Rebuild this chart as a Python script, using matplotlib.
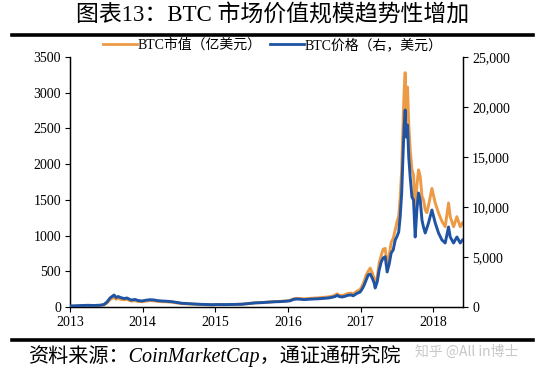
import matplotlib
matplotlib.use("Agg")
import matplotlib.pyplot as plt
from matplotlib.lines import Line2D

# ---- data ----
years = [2013.000, 2013.083, 2013.165, 2013.248, 2013.331, 2013.413, 2013.468, 2013.510,
         2013.551, 2013.579, 2013.606, 2013.634, 2013.661, 2013.702, 2013.744, 2013.785,
         2013.840, 2013.895, 2013.937, 2013.992, 2014.047, 2014.102, 2014.157, 2014.212,
         2014.267, 2014.322, 2014.405, 2014.474, 2014.543, 2014.625, 2014.708, 2014.791,
         2014.873, 2014.956, 2015.039, 2015.121, 2015.204, 2015.287, 2015.369, 2015.452,
         2015.548, 2015.645, 2015.727, 2015.810, 2015.893, 2015.975, 2016.030, 2016.072,
         2016.113, 2016.168, 2016.223, 2016.278, 2016.347, 2016.416, 2016.485, 2016.554,
         2016.609, 2016.650, 2016.678, 2016.705, 2016.747, 2016.788, 2016.829, 2016.871,
         2016.898, 2016.926, 2016.953, 2016.994, 2017.022, 2017.050, 2017.077, 2017.105,
         2017.132, 2017.160, 2017.187, 2017.201, 2017.229, 2017.256, 2017.284, 2017.311,
         2017.339, 2017.366, 2017.394, 2017.421, 2017.449, 2017.477, 2017.504, 2017.525,
         2017.545, 2017.566, 2017.587, 2017.601, 2017.614, 2017.628, 2017.646, 2017.663,
         2017.683, 2017.707, 2017.729, 2017.752, 2017.775, 2017.798, 2017.821, 2017.845,
         2017.866, 2017.890, 2017.913, 2017.935, 2017.982, 2018.028, 2018.073, 2018.120,
         2018.165, 2018.211, 2018.234, 2018.280, 2018.326, 2018.372, 2018.403]

price = [100, 120, 150, 170, 150, 180, 250, 500,
         900, 1050, 1200, 950, 1050, 930, 850, 900,
         700, 750, 650, 600, 680, 730, 700, 630,
         600, 580, 530, 450, 370, 340, 300, 270,
         250, 230, 250, 240, 250, 260, 280, 340,
         410, 440, 480, 520, 540, 580, 620, 750,
         800, 780, 740, 770, 800, 820, 860, 900,
         970, 1050, 1170, 1050, 1000, 1080, 1180, 1200,
         1120, 1250, 1370, 1500, 1800, 2200, 2700, 3200,
         3300, 2900, 2400, 1900, 2500, 3700, 4500, 4900,
         5030, 3500, 4300, 5400, 5700, 6700, 7100, 7500,
         9000, 11400, 15700, 18200, 19700, 17000, 18200, 15000,
         13000, 11000, 10700, 7000, 9700, 11400, 10700, 8700,
         8000, 7400, 7900, 8400, 9700, 8400, 7400, 6700,
         6400, 8000, 7000, 6400, 7000, 6400, 6700]

market_cap = [11, 14, 17, 19, 17, 21, 29, 57,
              103, 121, 138, 109, 121, 107, 101, 107,
              83, 89, 77, 74, 84, 90, 86, 78,
              75, 73, 67, 57, 47, 44, 39, 35,
              33, 31, 34, 33, 35, 36, 39, 48,
              58, 63, 69, 75, 79, 85, 93, 113,
              121, 119, 113, 119, 124, 128, 135, 141,
              152, 166, 185, 166, 160, 173, 190, 194,
              181, 203, 224, 246, 295, 362, 446, 500,
              545, 480, 400, 320, 415, 615, 720, 810,
              820, 590, 720, 900, 960, 1080, 1200, 1270,
              1520, 1920, 2640, 3050, 3280, 2750, 3080, 2560,
              2200, 1920, 1850, 1360, 1700, 1920, 1830, 1550,
              1500, 1360, 1320, 1420, 1660, 1455, 1316, 1200,
              1124, 1456, 1264, 1124, 1264, 1124, 1176]

left_ticks = [0, 500, 1000, 1500, 2000, 2500, 3000, 3500]
right_ticks = [0, 5000, 10000, 15000, 20000, 25000]
right_labels = ["0", "5,000", "10,000", "15,000", "20,000", "25,000"]
year_ticks = [2013, 2014, 2015, 2016, 2017, 2018]
year_labels = ["2013", "2014", "2015", "2016", "2017", "2018"]

title = "图表13：BTC 市场价值规模趋势性增加"
label_cap = "BTC市值（亿美元）"
label_price = "BTC价格（右，美元）"
source = "资料来源：CoinMarketCap，通证通研究院"

ORANGE = "#EC9A45"
BLUE = "#1F53A3"
FAM = ["Liberation Serif", "Noto Sans CJK SC"]

fig = plt.figure(figsize=(5.47, 3.72), dpi=100)
ax = fig.add_axes([70 / 547, 1 - 307 / 372, (463 - 70) / 547, (307 - 57) / 372])
ax2 = ax.twinx()

ax.plot(years, market_cap, color=ORANGE, lw=2.1, zorder=2, solid_joinstyle="round")
ax2.plot(years, price, color=BLUE, lw=2.1, zorder=3, solid_joinstyle="round")

ax.set_xlim(2013, 2018.41)
ax.set_ylim(0, 3500)
ax2.set_ylim(0, 25000)
ax.set_yticks(left_ticks)
ax.set_yticklabels([str(v) for v in left_ticks], family=FAM, fontsize=10)
ax2.set_yticks(right_ticks)
ax2.set_yticklabels(right_labels, family=FAM, fontsize=10)
ax.set_xticks(year_ticks)
ax.set_xticklabels(year_labels, family=FAM, fontsize=10)

for a in (ax, ax2):
    a.spines["top"].set_visible(False)
    for s in ("left", "right", "bottom"):
        a.spines[s].set_color("black")
        a.spines[s].set_linewidth(0.9)
ax.tick_params(axis="both", direction="out", length=3.5, width=0.8, pad=3, colors="black")
ax2.tick_params(axis="y", direction="out", length=3.5, width=0.8, pad=3, colors="black")

# legend
handles = [Line2D([], [], color=ORANGE, lw=2.0), Line2D([], [], color=BLUE, lw=2.0)]
fig.legend(handles, [label_cap, label_price], loc="center", bbox_to_anchor=(273 / 547, 1 - 45 / 372),
           ncol=2, frameon=False, prop={"family": FAM, "size": 10}, handlelength=2.4,
           handletextpad=0.1, columnspacing=0.6, borderaxespad=0)

# title and rules
fig.text(273 / 547, 1 - 16 / 372, title, ha="center", va="center", family=FAM, fontsize=16.5)
fig.add_artist(Line2D([12 / 547, 533 / 547], [1 - 35 / 372] * 2, color="black", lw=2.6))
fig.add_artist(Line2D([12 / 547, 533 / 547], [1 - 340 / 372] * 2, color="black", lw=2.6))

fig.text(28 / 547, 1 - 356 / 372, source, ha="left", va="center", family=FAM, fontsize=14.5,
         style="italic")
fig.text(415 / 547, 1 - 352 / 372, "知乎 @All in博士", ha="left", va="center",
         family=["Noto Sans CJK SC", "DejaVu Sans"], fontsize=10, color="#C8C8C8")

fig.savefig("out.png", dpi=100)
